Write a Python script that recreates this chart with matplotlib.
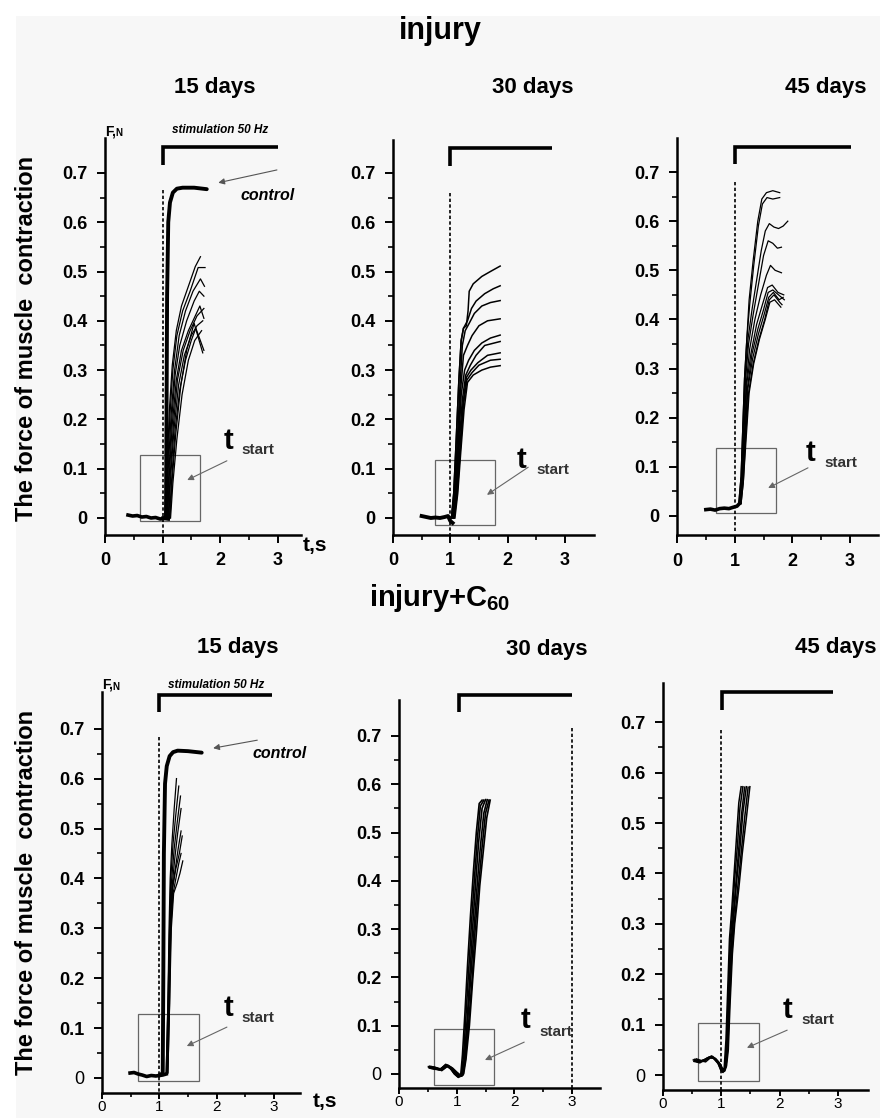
import matplotlib
matplotlib.use('Agg')
import matplotlib.pyplot as plt
from matplotlib.patches import Rectangle
from matplotlib.ticker import FixedLocator

plt.rcParams['font.family'] = ['Liberation Sans', 'DejaVu Sans']
plt.rcParams['mathtext.fontset'] = 'custom'
plt.rcParams['mathtext.rm'] = 'Liberation Sans:bold'
plt.rcParams['mathtext.bf'] = 'Liberation Sans:bold'

W, H = 880, 1118

# ── tick values / labels ─────────────────────────────────────
x_ticks = [0, 1, 2, 3]
x_minor = [0.5, 1.5, 2.5]
y_ticks = [0, 0.1, 0.2, 0.3, 0.4, 0.5, 0.6, 0.7]
y_minor = [0.05, 0.15, 0.25, 0.35, 0.45, 0.55, 0.65]
y_labels = ['0', '0.1', '0.2', '0.3', '0.4', '0.5', '0.6', '0.7']

# ── injury, 15 days ──────────────────────────────────────────
inj15_ctrl_t = [1.00, 1.06, 1.07, 1.08, 1.10, 1.13, 1.18, 1.25, 1.35, 1.55, 1.77]
inj15_ctrl_f = [0.000, 0.00, 0.20, 0.45, 0.60, 0.64, 0.66, 0.668, 0.670, 0.670, 0.667]
inj15_base_t = [0.40, 0.48, 0.56, 0.64, 0.72, 0.80, 0.88, 0.96, 1.04, 1.10]
inj15_base_f = [0.006, 0.004, 0.005, 0.002, 0.003, 0.000, 0.001, -0.002, -0.001, -0.002]
inj15_traces = [
    ([1.05, 1.08, 1.12, 1.17, 1.24, 1.33, 1.45, 1.57, 1.66], [0.0, 0.10, 0.22, 0.31, 0.38, 0.43, 0.47, 0.51, 0.53]),
    ([1.06, 1.09, 1.13, 1.18, 1.25, 1.35, 1.48, 1.62, 1.74], [0.0, 0.10, 0.21, 0.30, 0.37, 0.42, 0.46, 0.508, 0.508]),
    ([1.07, 1.10, 1.15, 1.21, 1.29, 1.40, 1.53, 1.66, 1.73], [0.0, 0.10, 0.21, 0.30, 0.37, 0.42, 0.46, 0.485, 0.47]),
    ([1.08, 1.11, 1.16, 1.22, 1.30, 1.42, 1.55, 1.64, 1.72], [0.0, 0.09, 0.20, 0.29, 0.35, 0.40, 0.44, 0.46, 0.45]),
    ([1.09, 1.12, 1.17, 1.24, 1.33, 1.45, 1.57, 1.65, 1.72], [0.0, 0.09, 0.19, 0.28, 0.34, 0.38, 0.41, 0.43, 0.405]),
    ([1.10, 1.13, 1.19, 1.26, 1.36, 1.48, 1.60, 1.72], [0.0, 0.08, 0.19, 0.28, 0.34, 0.38, 0.41, 0.425]),
    ([1.11, 1.14, 1.20, 1.28, 1.38, 1.50, 1.60, 1.70], [0.0, 0.08, 0.18, 0.27, 0.33, 0.37, 0.39, 0.40]),
    ([1.12, 1.16, 1.22, 1.30, 1.40, 1.50, 1.58, 1.72], [0.0, 0.08, 0.18, 0.26, 0.32, 0.36, 0.385, 0.34]),
    ([1.13, 1.17, 1.23, 1.32, 1.42, 1.55, 1.70], [0.0, 0.08, 0.17, 0.27, 0.34, 0.395, 0.335]),
    ([1.14, 1.18, 1.25, 1.34, 1.45, 1.56, 1.68], [0.0, 0.07, 0.16, 0.25, 0.32, 0.36, 0.38]),
]

# ── injury, 30 days ──────────────────────────────────────────
inj30_base_t = [0.50, 0.58, 0.66, 0.74, 0.82, 0.90, 0.96, 1.00, 1.04]
inj30_base_f = [0.004, 0.002, 0.000, 0.001, 0.000, 0.002, 0.004, -0.006, -0.010]
inj30_traces = [
    ([1.02, 1.06, 1.10, 1.15, 1.19, 1.23, 1.28, 1.31, 1.33, 1.40, 1.55, 1.70, 1.87], [0.0, 0.05, 0.15, 0.28, 0.36, 0.385, 0.39, 0.42, 0.46, 0.475, 0.49, 0.50, 0.511]),
    ([1.02, 1.06, 1.10, 1.15, 1.19, 1.23, 1.30, 1.37, 1.45, 1.60, 1.75, 1.87], [0.0, 0.05, 0.15, 0.28, 0.36, 0.385, 0.40, 0.425, 0.44, 0.455, 0.465, 0.471]),
    ([1.03, 1.07, 1.12, 1.17, 1.21, 1.26, 1.33, 1.42, 1.55, 1.70, 1.87], [0.0, 0.05, 0.15, 0.27, 0.35, 0.38, 0.395, 0.415, 0.43, 0.437, 0.441]),
    ([1.04, 1.08, 1.13, 1.18, 1.23, 1.30, 1.38, 1.50, 1.65, 1.87], [0.0, 0.05, 0.14, 0.26, 0.33, 0.35, 0.37, 0.39, 0.40, 0.404]),
    ([1.05, 1.09, 1.14, 1.19, 1.25, 1.32, 1.42, 1.55, 1.70, 1.87], [0.0, 0.05, 0.14, 0.25, 0.30, 0.32, 0.34, 0.355, 0.365, 0.371]),
    ([1.05, 1.10, 1.15, 1.21, 1.27, 1.35, 1.45, 1.60, 1.87], [0.0, 0.05, 0.14, 0.24, 0.29, 0.31, 0.33, 0.35, 0.358]),
    ([1.06, 1.11, 1.16, 1.22, 1.28, 1.36, 1.48, 1.65, 1.87], [0.0, 0.05, 0.13, 0.23, 0.285, 0.30, 0.315, 0.33, 0.335]),
    ([1.07, 1.12, 1.17, 1.23, 1.29, 1.38, 1.50, 1.70, 1.87], [0.0, 0.05, 0.13, 0.23, 0.28, 0.295, 0.31, 0.32, 0.322]),
    ([1.08, 1.13, 1.18, 1.24, 1.30, 1.40, 1.55, 1.70, 1.87], [0.0, 0.05, 0.13, 0.22, 0.275, 0.29, 0.30, 0.306, 0.309]),
]

# ── injury, 45 days ──────────────────────────────────────────
inj45_base_t = [0.50, 0.58, 0.66, 0.74, 0.82, 0.90, 0.98, 1.04, 1.08]
inj45_base_f = [0.013, 0.014, 0.012, 0.015, 0.016, 0.015, 0.018, 0.020, 0.025]
inj45_traces = [
    ([1.07, 1.11, 1.14, 1.17, 1.21, 1.25, 1.32, 1.40, 1.47, 1.55, 1.66, 1.78], [0.025, 0.08, 0.18, 0.28, 0.36, 0.44, 0.52, 0.60, 0.645, 0.658, 0.662, 0.658]),
    ([1.07, 1.11, 1.14, 1.17, 1.21, 1.26, 1.33, 1.41, 1.48, 1.56, 1.66, 1.78], [0.025, 0.08, 0.18, 0.28, 0.36, 0.43, 0.51, 0.59, 0.635, 0.648, 0.645, 0.648]),
    ([1.08, 1.12, 1.15, 1.18, 1.23, 1.30, 1.38, 1.46, 1.53, 1.60, 1.68, 1.76, 1.84, 1.92], [0.025, 0.08, 0.18, 0.28, 0.36, 0.42, 0.48, 0.54, 0.58, 0.595, 0.588, 0.585, 0.59, 0.60]),
    ([1.08, 1.12, 1.15, 1.19, 1.24, 1.32, 1.41, 1.50, 1.58, 1.66, 1.74, 1.81], [0.025, 0.08, 0.18, 0.28, 0.35, 0.41, 0.47, 0.53, 0.56, 0.555, 0.545, 0.547]),
    ([1.09, 1.13, 1.16, 1.20, 1.26, 1.35, 1.45, 1.55, 1.62, 1.70, 1.81], [0.025, 0.08, 0.17, 0.27, 0.34, 0.40, 0.45, 0.49, 0.51, 0.50, 0.495]),
    ([1.09, 1.13, 1.17, 1.21, 1.28, 1.38, 1.48, 1.57, 1.65, 1.75, 1.85], [0.025, 0.08, 0.17, 0.27, 0.33, 0.39, 0.43, 0.465, 0.47, 0.455, 0.45]),
    ([1.10, 1.14, 1.18, 1.22, 1.30, 1.40, 1.50, 1.58, 1.66, 1.76, 1.86], [0.025, 0.08, 0.17, 0.26, 0.33, 0.38, 0.42, 0.455, 0.46, 0.45, 0.44]),
    ([1.10, 1.14, 1.18, 1.23, 1.31, 1.41, 1.51, 1.59, 1.67, 1.77, 1.84], [0.025, 0.07, 0.16, 0.26, 0.32, 0.37, 0.41, 0.445, 0.455, 0.44, 0.445]),
    ([1.11, 1.15, 1.19, 1.24, 1.32, 1.42, 1.52, 1.60, 1.68, 1.78, 1.82], [0.025, 0.07, 0.16, 0.25, 0.31, 0.36, 0.40, 0.44, 0.45, 0.435, 0.43]),
    ([1.11, 1.15, 1.20, 1.25, 1.33, 1.43, 1.53, 1.61, 1.69, 1.80], [0.025, 0.07, 0.16, 0.25, 0.31, 0.36, 0.40, 0.435, 0.44, 0.425]),
]

# ── injury+C60, 15 days ──────────────────────────────────────
c15_ctrl_t = [1.00, 1.06, 1.07, 1.08, 1.10, 1.13, 1.18, 1.24, 1.32, 1.50, 1.74]
c15_ctrl_f = [0.005, 0.01, 0.20, 0.45, 0.59, 0.625, 0.645, 0.653, 0.656, 0.655, 0.652]
c15_base_t = [0.49, 0.56, 0.63, 0.70, 0.78, 0.86, 0.94, 1.00, 1.06, 1.12]
c15_base_f = [0.010, 0.011, 0.008, 0.006, 0.003, 0.005, 0.004, 0.005, 0.006, 0.008]
c15_traces = [
    ([1.12, 1.15, 1.17, 1.19, 1.22, 1.26, 1.30], [0.01, 0.15, 0.30, 0.40, 0.47, 0.54, 0.60]),
    ([1.12, 1.15, 1.18, 1.20, 1.24, 1.29, 1.34], [0.01, 0.15, 0.30, 0.40, 0.47, 0.53, 0.585]),
    ([1.13, 1.16, 1.18, 1.21, 1.26, 1.31, 1.37], [0.01, 0.15, 0.30, 0.39, 0.46, 0.51, 0.565]),
    ([1.13, 1.16, 1.19, 1.22, 1.27, 1.32, 1.38], [0.01, 0.15, 0.30, 0.38, 0.44, 0.49, 0.54]),
    ([1.14, 1.17, 1.19, 1.23, 1.28, 1.33, 1.38], [0.01, 0.15, 0.30, 0.38, 0.42, 0.46, 0.495]),
    ([1.14, 1.17, 1.20, 1.23, 1.29, 1.35, 1.40], [0.01, 0.15, 0.30, 0.38, 0.42, 0.45, 0.485]),
    ([1.15, 1.18, 1.20, 1.24, 1.29, 1.34, 1.38], [0.01, 0.15, 0.30, 0.37, 0.40, 0.43, 0.45]),
    ([1.15, 1.18, 1.21, 1.25, 1.31, 1.36, 1.41], [0.01, 0.15, 0.30, 0.37, 0.39, 0.41, 0.435]),
]

# ── injury+C60, 30 days ──────────────────────────────────────
c30_traces = [
    ([0.51, 0.60, 0.70, 0.80, 0.88, 0.95, 1.02, 1.07, 1.10, 1.14, 1.19, 1.24, 1.29, 1.34, 1.39, 1.44], [0.015, 0.012, 0.008, 0.018, 0.014, 0.002, -0.006, -0.002, 0.04, 0.12, 0.23, 0.33, 0.42, 0.50, 0.56, 0.567]),
    ([0.52, 0.61, 0.71, 0.81, 0.89, 0.96, 1.03, 1.08, 1.12, 1.16, 1.21, 1.26, 1.31, 1.36, 1.41, 1.47], [0.013, 0.010, 0.009, 0.020, 0.012, 0.000, -0.007, -0.003, 0.04, 0.12, 0.22, 0.32, 0.41, 0.49, 0.555, 0.567]),
    ([0.53, 0.62, 0.72, 0.82, 0.90, 0.97, 1.04, 1.09, 1.13, 1.18, 1.23, 1.28, 1.33, 1.38, 1.44, 1.50], [0.016, 0.014, 0.010, 0.017, 0.010, 0.001, -0.005, -0.004, 0.03, 0.11, 0.21, 0.31, 0.40, 0.48, 0.55, 0.568]),
    ([0.54, 0.63, 0.73, 0.83, 0.91, 0.98, 1.05, 1.10, 1.14, 1.19, 1.25, 1.30, 1.36, 1.41, 1.47, 1.53], [0.012, 0.011, 0.011, 0.019, 0.013, 0.003, -0.004, -0.003, 0.03, 0.11, 0.21, 0.30, 0.40, 0.47, 0.54, 0.568]),
    ([0.55, 0.64, 0.74, 0.84, 0.92, 0.99, 1.06, 1.11, 1.15, 1.21, 1.27, 1.32, 1.38, 1.44, 1.50, 1.56], [0.014, 0.013, 0.007, 0.016, 0.011, 0.002, -0.005, -0.002, 0.03, 0.11, 0.20, 0.30, 0.39, 0.47, 0.54, 0.567]),
    ([0.56, 0.65, 0.75, 0.85, 0.93, 1.00, 1.07, 1.12, 1.16, 1.22, 1.28, 1.34, 1.40, 1.46, 1.52, 1.58], [0.015, 0.012, 0.009, 0.018, 0.012, 0.004, -0.003, 0.000, 0.03, 0.10, 0.20, 0.29, 0.39, 0.46, 0.53, 0.567]),
]

# ── injury+C60, 45 days ──────────────────────────────────────
c45_traces = [
    ([0.52, 0.60, 0.68, 0.76, 0.82, 0.88, 0.94, 0.99, 1.02, 1.05, 1.08, 1.11, 1.14, 1.18, 1.22, 1.26, 1.30, 1.34], [0.030, 0.026, 0.028, 0.034, 0.036, 0.032, 0.024, 0.010, 0.006, 0.015, 0.07, 0.17, 0.27, 0.33, 0.40, 0.47, 0.54, 0.572]),
    ([0.53, 0.61, 0.69, 0.77, 0.83, 0.89, 0.95, 1.00, 1.03, 1.06, 1.09, 1.12, 1.15, 1.19, 1.23, 1.28, 1.32, 1.37], [0.027, 0.025, 0.030, 0.032, 0.038, 0.030, 0.022, 0.008, 0.005, 0.014, 0.06, 0.16, 0.26, 0.32, 0.39, 0.46, 0.53, 0.572]),
    ([0.54, 0.62, 0.70, 0.78, 0.84, 0.90, 0.96, 1.01, 1.04, 1.07, 1.10, 1.13, 1.16, 1.20, 1.25, 1.30, 1.35, 1.40], [0.031, 0.028, 0.027, 0.035, 0.034, 0.033, 0.025, 0.011, 0.008, 0.016, 0.06, 0.15, 0.25, 0.31, 0.38, 0.45, 0.52, 0.571]),
    ([0.55, 0.63, 0.71, 0.79, 0.85, 0.91, 0.97, 1.02, 1.05, 1.08, 1.11, 1.14, 1.17, 1.21, 1.26, 1.32, 1.37, 1.43], [0.028, 0.024, 0.029, 0.033, 0.037, 0.031, 0.023, 0.009, 0.007, 0.017, 0.06, 0.15, 0.25, 0.31, 0.38, 0.45, 0.52, 0.572]),
    ([0.56, 0.64, 0.72, 0.80, 0.86, 0.92, 0.98, 1.02, 1.05, 1.08, 1.11, 1.14, 1.18, 1.22, 1.28, 1.34, 1.40, 1.46], [0.029, 0.027, 0.031, 0.036, 0.035, 0.029, 0.021, 0.012, 0.009, 0.018, 0.05, 0.14, 0.24, 0.30, 0.37, 0.44, 0.51, 0.571]),
    ([0.57, 0.65, 0.73, 0.81, 0.87, 0.93, 0.99, 1.03, 1.06, 1.09, 1.12, 1.15, 1.19, 1.23, 1.30, 1.36, 1.43, 1.49], [0.032, 0.029, 0.026, 0.034, 0.033, 0.028, 0.020, 0.010, 0.008, 0.018, 0.05, 0.14, 0.24, 0.30, 0.37, 0.44, 0.51, 0.572]),
]

# ── panel layout (pixel geometry of each axis frame) ─────────
# x0, px per s, xmax, y0, px per N, ymin, ymax
layout = [
    (105, 57.5, 3.40, 518, 493.0, -0.034, 0.770),
    (393, 57.3, 3.50, 518, 493.0, -0.034, 0.767),
    (677, 57.7, 3.48, 516, 491.4, -0.039, 0.769),
    (102, 57.3, 3.45, 1078, 499.0, -0.030, 0.774),
    (399, 57.7, 3.48, 1074, 483.0, -0.029, 0.774),
    (663, 58.3, 3.52, 1075, 504.0, -0.030, 0.778),
]

# per panel annotations: bracket (y, x1, x2, y_tick), dashed (x, ytop, ybot), box, t-start text/arrow
brackets = [(0.752, 1.0, 3.0, 0.716), (0.750, 1.0, 2.78, 0.714), (0.751, 1.0, 3.02, 0.716),
            (0.768, 1.0, 2.97, 0.733), (0.785, 1.04, 3.0, 0.749), (0.760, 1.01, 2.92, 0.724)]
dashed = [(1.0, 0.665, -0.034), (1.0, 0.66, -0.034), (1.0, 0.68, -0.03),
          (0.99, 0.683, -0.03), (3.0, 0.716, -0.029), (1.0, 0.685, -0.03)]
boxes = [(0.61, -0.006, 1.65, 0.128), (0.73, -0.014, 1.78, 0.118), (0.68, 0.006, 1.72, 0.138),
         (0.63, -0.006, 1.69, 0.128), (0.61, -0.023, 1.65, 0.093), (0.60, -0.012, 1.65, 0.103)]
t_text = [(2.14, 0.156, 2.38, 0.138), (2.25, 0.118, 2.51, 0.097), (2.31, 0.128, 2.56, 0.108),
          (2.20, 0.140, 2.44, 0.120), (2.20, 0.112, 2.43, 0.087), (2.14, 0.129, 2.37, 0.109)]
t_arrow = [((2.12, 0.116), (1.43, 0.077)), ((2.36, 0.103), (1.64, 0.047)), ((2.27, 0.098), (1.58, 0.057)),
           ((2.18, 0.102), (1.48, 0.064)), ((2.17, 0.066), (1.49, 0.029)), ((2.13, 0.089), (1.44, 0.054))]

fig = plt.figure(figsize=(W / 100, H / 100), dpi=100, facecolor='white')
fig.patches.append(Rectangle((16 / W, 0), 1, 1 - 16 / H, transform=fig.transFigure,
                             facecolor='#f7f7f7', edgecolor='none', zorder=-10))

axes = []
for i, (x0, xs, xmax, y0, ys, ymin, ymax) in enumerate(layout):
    left = x0
    right = x0 + xmax * xs
    bot = y0 - ymin * ys
    top = y0 - ymax * ys
    ax = fig.add_axes([left / W, 1 - bot / H, (right - left) / W, (bot - top) / H])
    ax.set_xlim(0, xmax)
    ax.set_ylim(ymin, ymax)
    ax.patch.set_alpha(0)
    for s in ['top', 'right']:
        ax.spines[s].set_visible(False)
    for s in ['left', 'bottom']:
        ax.spines[s].set_linewidth(1.8)
    ax.xaxis.set_major_locator(FixedLocator(x_ticks))
    ax.xaxis.set_minor_locator(FixedLocator(x_minor))
    ax.yaxis.set_major_locator(FixedLocator(y_ticks))
    ax.yaxis.set_minor_locator(FixedLocator(y_minor))
    ax.set_yticklabels(y_labels)
    ax.set_xticklabels([str(v) for v in x_ticks])
    ax.tick_params(which='major', length=5.5, width=1.4, labelsize=13, pad=7)
    ax.tick_params(which='minor', length=3.5, width=1.2)
    lower = i >= 3
    if lower:
        # bottom row sits on the lower edge of the picture
        ax.tick_params(axis='x', which='major', length=4.5, labelsize=11, pad=0.5)
        ax.tick_params(axis='x', which='minor', length=3.0)
    for lbl in ax.get_yticklabels():
        lbl.set_fontweight('normal' if (lower and lbl.get_text() == '0') else 'bold')
    for lbl in ax.get_xticklabels():
        lbl.set_fontweight('normal' if lower else 'bold')

    # stimulation bracket
    by, bx1, bx2, byt = brackets[i]
    ax.plot([bx1, bx1, bx2], [byt, by, by], color='black', lw=2.6, clip_on=False,
            solid_capstyle='butt', solid_joinstyle='miter')
    # dashed onset line
    dx, dtop, dbot = dashed[i]
    ax.plot([dx, dx], [dtop, dbot], color='black', lw=1.2, ls=(0, (2, 1.4)), clip_on=False)
    # t_start box
    bx0, by0, bx1_, by1 = boxes[i]
    ax.add_patch(Rectangle((bx0, by0), bx1_ - bx0, by1 - by0, fill=False,
                           edgecolor='#666666', lw=0.9, zorder=1))
    tx, ty, sx, sy = t_text[i]
    ax.text(tx, ty, 't', fontsize=21, fontweight='bold', ha='center', va='center')
    ax.text(sx, sy, 'start', fontsize=11, fontweight='bold', color='#333333', ha='left', va='center')
    tail, head = t_arrow[i]
    ax.annotate('', xy=head, xytext=tail,
                arrowprops=dict(arrowstyle='-|>', color='#666666', lw=0.8,
                                mutation_scale=9, shrinkA=0, shrinkB=0))
    axes.append(ax)

ax1, ax2, ax3, ax4, ax5, ax6 = axes

# traces
lw_thin = 0.9
ax1.plot(inj15_base_t, inj15_base_f, color='black', lw=2.6)
for t, f in inj15_traces:
    ax1.plot(t, f, color='black', lw=lw_thin)
ax1.plot(inj15_ctrl_t, inj15_ctrl_f, color='black', lw=2.8, solid_capstyle='round')

ax2.plot(inj30_base_t, inj30_base_f, color='black', lw=2.8)
for t, f in inj30_traces:
    ax2.plot(t, f, color='black', lw=1.1)

ax3.plot(inj45_base_t, inj45_base_f, color='black', lw=2.6)
for t, f in inj45_traces:
    ax3.plot(t, f, color='black', lw=lw_thin)

ax4.plot(c15_base_t, c15_base_f, color='black', lw=2.6)
for t, f in c15_traces:
    ax4.plot(t, f, color='black', lw=lw_thin)
ax4.plot(c15_ctrl_t, c15_ctrl_f, color='black', lw=2.8, solid_capstyle='round')

for t, f in c30_traces:
    ax5.plot(t, f, color='black', lw=1.2)
for t, f in c45_traces:
    ax6.plot(t, f, color='black', lw=1.1)

# control labels + stimulation text on the 15-day panels
for ax, (cx, cy), tail, head in [(ax1, (2.35, 0.655), (2.99, 0.706), (1.97, 0.680)),
                                  (ax4, (2.62, 0.651), (2.71, 0.677), (1.94, 0.661))]:
    ax.text(cx, cy, 'control', fontsize=11.5, fontweight='bold', fontstyle='italic',
            ha='left', va='center', clip_on=False)
    ax.annotate('', xy=head, xytext=tail,
                arrowprops=dict(arrowstyle='-|>', color='#555555', lw=0.8,
                                mutation_scale=9, shrinkA=0, shrinkB=0))
ax1.text(2.0, 0.787, 'stimulation 50 Hz', fontsize=8.5, fontweight='bold', fontstyle='italic',
         ha='center', va='center')
ax4.text(2.0, 0.787, 'stimulation 50 Hz', fontsize=8.5, fontweight='bold', fontstyle='italic',
         ha='center', va='center')

# F,N unit labels
for ax in (ax1, ax4):
    ax.text(0.0, 1.0, 'F,', transform=ax.transAxes, fontsize=10, fontweight='bold',
            ha='left', va='bottom')
    ax.text(0.055, 1.0, 'N', transform=ax.transAxes, fontsize=7, fontweight='bold',
            ha='left', va='bottom')

# t,s axis labels
ax1.text(3.65, -0.055, 't,s', fontsize=15, fontweight='bold', ha='center', va='center', clip_on=False)
ax4.text(3.89, -0.048, 't,s', fontsize=15, fontweight='bold', ha='center', va='center', clip_on=False)

# titles
def fx(px):
    return px / W


def fy(py):
    return 1 - py / H


fig.text(fx(440), fy(31), 'injury', fontsize=22, fontweight='bold', ha='center', va='center')
fig.text(fx(440), fy(598), r'injury+C$_{\mathbf{60}}$', fontsize=21, fontweight='bold',
         ha='center', va='center')
for x, y, s in [(215, 88, '15 days'), (533, 88, '30 days'), (826, 88, '45 days'),
                (238, 648, '15 days'), (547, 650, '30 days'), (836, 648, '45 days')]:
    fig.text(fx(x), fy(y), s, fontsize=16, fontweight='bold', ha='center', va='center')

for y in (338, 892):
    fig.text(fx(27), fy(y), 'The force of muscle  contraction', fontsize=17, fontweight='bold',
             rotation=90, ha='center', va='center')

fig.savefig('out.png', dpi=100, facecolor='white')
